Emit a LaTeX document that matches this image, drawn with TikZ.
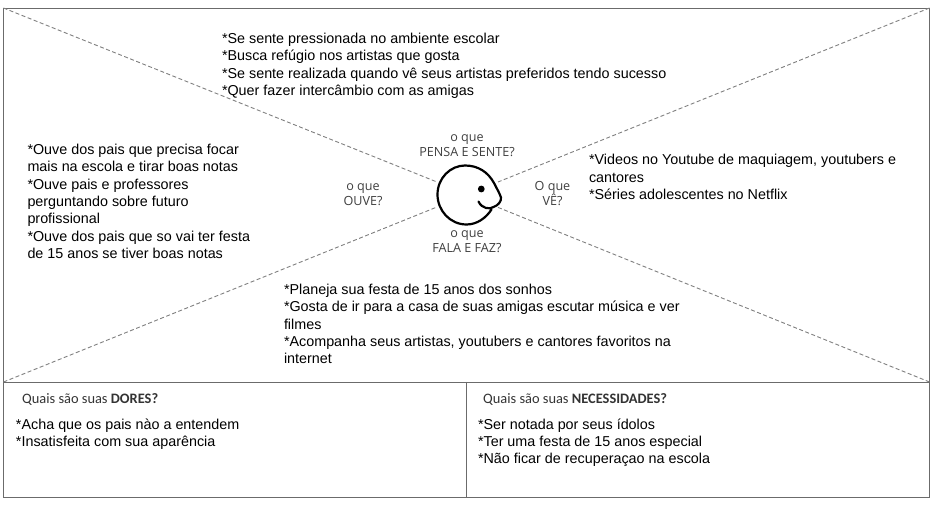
\documentclass[tikz,border=0pt]{standalone}
\usepackage{fontspec}
\setmainfont{Liberation Sans}
\newfontfamily\opensans{Open Sans}
\newfontfamily\carlito{Carlito}
\begin{document}
\begin{tikzpicture}[x=1pt,y=-1pt,
  frameline/.style={draw=black!58,line width=0.95pt},
  dashline/.style={draw=black!50,line width=0.9pt,dash pattern=on 4pt off 2.5pt},
  body/.style={inner sep=0pt,outer sep=0pt,anchor=north west,align=left,font=\fontsize{14.35}{17.4}\selectfont,text=black},
  facecap/.style={inner sep=0pt,align=center,font=\opensans\fontsize{12.6}{15}\selectfont,text=black!75},
  headcap/.style={inner sep=0pt,anchor=north west,font=\carlito\fontsize{14.4}{16}\selectfont,text=black!80}]
\useasboundingbox (0,0) rectangle (938,510);
\fill[white] (0,0) rectangle (938,510);
\coordinate (tl) at (3.5,8);
\coordinate (tr) at (929.5,8);
\coordinate (ml) at (3.5,382);
\coordinate (mr) at (929.5,382);
\coordinate (bl) at (3.5,497);
\coordinate (br) at (929.5,497);
\coordinate (mc) at (466,382);
\coordinate (bc) at (466,497);
\coordinate (fa) at (437,182);
\coordinate (fb) at (437,207);
\coordinate (fc) at (498,182);
\coordinate (fd) at (497,207);
\draw[frameline] (tl) -- (tr) -- (br) -- (bl) -- cycle;
\draw[frameline] (ml) -- (mr);
\draw[frameline] (mc) -- (bc);
\draw[dashline] (tl) -- (fa);
\draw[dashline] (ml) -- (fb);
\draw[dashline] (tr) -- (fc);
\draw[dashline] (mr) -- (fd);
% face
\draw[black,line width=2.2pt,line join=round,line cap=round]
  (491.5,209.5) .. controls (486,218) and (477,224.5) .. (466.5,224.5)
  .. controls (450,224.5) and (437.5,210.5) .. (437.5,194.5)
  .. controls (437.5,178) and (450.5,165.5) .. (465,165.5)
  .. controls (478,165.5) and (488,172) .. (494,183)
  .. controls (497,189) and (499.5,193) .. (501,197.5)
  .. controls (501.5,201.5) and (498,205.5) .. (493.5,207)
  .. controls (490,209.5) and (482,209) .. (478.5,201.5);
\fill[black] (481.3,189) circle (3.4);
% texts
\node[body] (t1) at (222,33) {*Se sente pressionada no ambiente escolar\\*Busca refúgio nos artistas que gosta\\*Se sente realizada quando vê seus artistas preferidos tendo sucesso\\*Quer fazer intercâmbio com as amigas};
\node[body] (t2) at (27.5,144) {*Ouve dos pais que precisa focar\\mais na escola e tirar boas notas\\*Ouve pais e professores\\perguntando sobre futuro\\profissional\\*Ouve dos pais que so vai ter festa\\de 15 anos se tiver boas notas};
\node[body] (t3) at (589,154.5) {*Videos no Youtube de maquiagem, youtubers e\\cantores\\*Séries adolescentes no Netflix};
\node[body] (t4) at (284,284) {*Planeja sua festa de 15 anos dos sonhos\\*Gosta de ir para a casa de suas amigas escutar música e ver\\filmes\\*Acompanha seus artistas, youtubers e cantores favoritos na\\internet};
\node[body] (t5) at (16,418.5) {*Acha que os pais nào a entendem\\*Insatisfeita com sua aparência};
\node[body] (t6) at (478,418.5) {*Ser notada por seus ídolos\\*Ter uma festa de 15 anos especial\\*Não ficar de recuperaçao na escola};
\node[facecap] (c1) at (467,145.5) {o que\\PENSA E SENTE?};
\node[facecap] (c2) at (363,194.5) {o que\\OUVE?};
\node[facecap] (c3) at (552.5,194) {O que\\VÊ?};
\node[facecap] (c4) at (467,241.5) {o que\\FALA E FAZ?};
\node[headcap] (h1) at (22,393.5) {Quais são suas \textbf{DORES?}};
\node[headcap] (h2) at (483,393.5) {Quais são suas \textbf{NECESSIDADES?}};
\end{tikzpicture}
\end{document}
